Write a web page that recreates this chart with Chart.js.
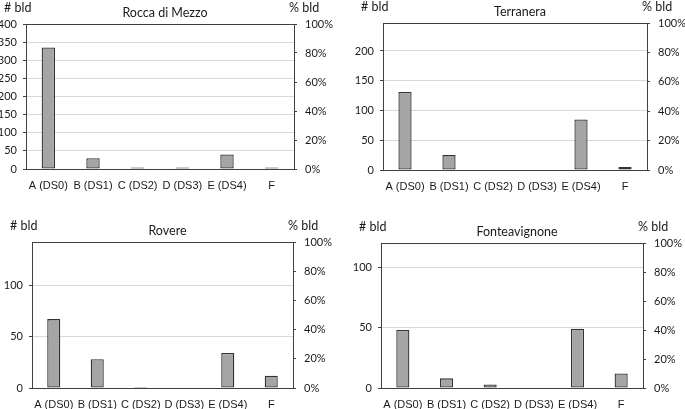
<!DOCTYPE html>
<html>
<head>
<meta charset="utf-8">
<script src="https://cdn.jsdelivr.net/npm/chart.js@4.4.1/dist/chart.umd.min.js"></script>
<style>
  body { margin: 0; background: #fff; width: 685px; height: 409px; position: relative; overflow: hidden; }
  .box { position: absolute; }
</style>
</head>
<body>
<div class="box" style="left:0;top:0;width:342px;height:200px"><canvas id="c1"></canvas></div>
<div class="box" style="left:342px;top:0;width:343px;height:200px"><canvas id="c2"></canvas></div>
<div class="box" style="left:0;top:205px;width:342px;height:204px"><canvas id="c3"></canvas></div>
<div class="box" style="left:342px;top:205px;width:343px;height:204px"><canvas id="c4"></canvas></div>
<script>
const categories = ["A (DS0)", "B (DS1)", "C (DS2)", "D (DS3)", "E (DS4)", "F"];

const roccaDiMezzo = [335, 30, 2, 2, 40, 2];
const terranera = [131, 25, 0, 0, 85, 5];
const rovere = [67, 28, 1, 0, 34, 12];
const fonteavignone = [48, 8, 3, 0, 49, 12];

const titles = ["Rocca di Mezzo", "Terranera", "Rovere", "Fonteavignone"];
const countMax = [400, 247, 142, 120];

// frame round the plot + "# bld", "% bld" and the title above it
const decor = {
  id: "decor",
  afterDraw(chart, args, opts) {
    const a = chart.chartArea;
    const ctx = chart.ctx;
    ctx.save();
    ctx.strokeStyle = "#404040";
    ctx.lineWidth = 1;
    ctx.strokeRect(Math.round(a.left) + 0.5, Math.round(a.top) + 0.5,
      Math.round(a.right - a.left), Math.round(a.bottom - a.top));
    ctx.fillStyle = "#1a1a1a";
    ctx.font = "12.5px Lato";
    ctx.textBaseline = "middle";
    ctx.textAlign = "left";
    ctx.fillText("# bld", a.left - 22, a.top - 16);
    ctx.fillText("% bld", a.right - 5, a.top - 16);
    ctx.textAlign = "center";
    ctx.fillText(opts.text, (a.left + a.right) / 2 + 5, a.top - 11);
    ctx.restore();
  }
};

function makeChart(id, values, title, max, left, right, top, bottom, minBar) {
  new Chart(document.getElementById(id), {
    type: "bar",
    data: {
      labels: categories,
      datasets: [{
        data: values,
        backgroundColor: "#a5a5a5",
        borderColor: "#333",
        borderWidth: 1.3,
        borderSkipped: false,
        minBarLength: minBar,
        categoryPercentage: 1,
        barPercentage: 0.3
      }]
    },
    plugins: [decor],
    options: {
      responsive: true,
      maintainAspectRatio: false,
      animation: false,
      layout: { padding: { top: top, left: 0, right: 0, bottom: 0 } },
      plugins: {
        legend: { display: false },
        tooltip: { enabled: false },
        decor: { text: title }
      },
      scales: {
        x: {
          grid: { display: false },
          border: { display: false },
          ticks: { color: "#1a1a1a", font: { family: "Liberation Sans", size: 11 }, padding: 2, maxRotation: 0 },
          afterFit(s) { s.height = bottom; }
        },
        y: {
          position: "left",
          min: 0,
          max: max,
          grid: { color: "#d9d9d9", tickColor: "#404040", tickLength: 3 },
          border: { display: false },
          ticks: { stepSize: 50, includeBounds: false, color: "#1a1a1a", font: { family: "Lato", size: 11 }, padding: 6 },
          afterFit(s) { s.width = left; }
        },
        y2: {
          position: "right",
          min: 0,
          max: 100,
          grid: { drawOnChartArea: false, color: "#404040", tickLength: 3 },
          border: { display: false },
          ticks: { stepSize: 20, color: "#1a1a1a", font: { family: "Lato", size: 11 }, padding: 8,
            callback: v => v + "%" },
          afterFit(s) { s.width = right; }
        }
      }
    }
  });
}

makeChart("c1", roccaDiMezzo, titles[0], countMax[0], 26, 48, 24, 31, 1.5);
makeChart("c2", terranera, titles[1], countMax[1], 41, 38, 23, 30, 0);
makeChart("c3", rovere, titles[2], countMax[2], 32, 49, 37, 21, 0);
makeChart("c4", fonteavignone, titles[3], countMax[3], 39, 42, 38, 21, 0);
</script>
</body>
</html>
